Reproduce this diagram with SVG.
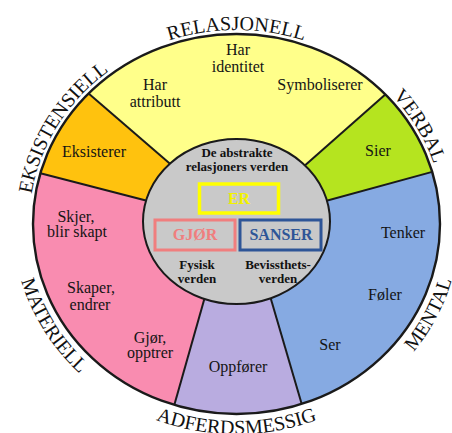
<svg xmlns="http://www.w3.org/2000/svg" width="452" height="433" viewBox="0 0 452 433">
  <style>
    .sector { stroke: none; }
    .divider { stroke: #1a1a1a; stroke-width: 2; fill: none; }
    .rim { fill: none; stroke: #1a1a1a; stroke-width: 2.4; }
    .label { font-family: "Liberation Serif", "Times New Roman", serif; font-size: 16px; fill: #141414; text-anchor: middle; }
    .ring { font-family: "Liberation Serif", "Times New Roman", serif; font-size: 20px; fill: #111; }
    .core { font-family: "Liberation Serif", "Times New Roman", serif; font-size: 13px; font-weight: bold; fill: #111; text-anchor: middle; }
    .verb { font-family: "Liberation Serif", "Times New Roman", serif; font-size: 16px; font-weight: bold; text-anchor: middle; }
  </style>
  <defs>
    <!-- baselines for the curved category names -->
    <path id="arcRel" d="M77.6,99.3 A207.5,194 0 0 1 395.4,99.3"/>
    <path id="arcEks" d="M32.2,257.7 A207.5,194 0 0 1 165.5,41.7"/>
    <path id="arcVer" d="M310.9,42.9 A207.5,194 0 0 1 440.2,261.0"/>
    <path id="arcMat" d="M16.4,187.5 A223.5,210 0 0 0 160.1,421.3"/>
    <path id="arcMen" d="M327.4,415.8 A223.5,210 0 0 0 453.4,173.2"/>
    <path id="arcAdf" d="M92.8,384.9 A223.5,210 0 0 0 380.2,384.9"/>
  </defs>

  <rect width="452" height="433" fill="#ffffff"/>

  <!-- outer ring sectors -->
  <g id="relasjonell">
    <path class="sector" fill="#FFFF8A" d="M190,181 L88.6,93.5 A203.5,190 0 0 1 385.3,94.4 L285,183 L236.5,222 Z"/>
    <text class="label" x="238" y="55">Har</text>
    <text class="label" x="238" y="72">identitet</text>
    <text class="label" x="155" y="90">Har</text>
    <text class="label" x="155" y="107">attributt</text>
    <text class="label" x="320" y="90">Symboliserer</text>
  </g>
  <g id="verbal">
    <path class="sector" fill="#B5E41F" d="M285,183 L385.3,94.4 A203.5,190 0 0 1 432.2,171.9 L300,208 L236.5,222 Z"/>
    <text class="label" x="378" y="156">Sier</text>
  </g>
  <g id="mental">
    <path class="sector" fill="#86AAE2" d="M300,208 L432.2,171.9 A203.5,190 0 0 1 301.7,404 L263,272 L236.5,222 Z"/>
    <text class="label" x="403" y="238">Tenker</text>
    <text class="label" x="385" y="300">Føler</text>
    <text class="label" x="330" y="350">Ser</text>
  </g>
  <g id="adferdsmessig">
    <path class="sector" fill="#B9ACE0" d="M263,272 L301.7,404 A203.5,190 0 0 1 174.3,404.9 L212,272 L236.5,222 Z"/>
    <text class="label" x="238" y="372">Oppfører</text>
  </g>
  <g id="materiell">
    <path class="sector" fill="#F98CB0" d="M212,272 L174.3,404.9 A203.5,190 0 0 1 40.4,173.2 L175,208 L236.5,222 Z"/>
    <text class="label" x="76" y="222">Skjer,</text>
    <text class="label" x="77" y="237">blir skapt</text>
    <text class="label" x="91" y="293">Skaper,</text>
    <text class="label" x="90" y="310">endrer</text>
    <text class="label" x="150" y="343">Gjør,</text>
    <text class="label" x="150" y="358">opptrer</text>
  </g>
  <g id="eksistensiell">
    <path class="sector" fill="#FFC20E" d="M175,208 L40.4,173.2 A203.5,190 0 0 1 88.6,93.5 L190,181 L236.5,222 Z"/>
    <text class="label" x="94" y="157">Eksisterer</text>
  </g>

  <!-- connectors: sector dividers and rim -->
  <g id="connectors">
    <ellipse class="rim" cx="236.5" cy="224" rx="203.5" ry="190"/>
    <line class="divider" x1="88.6" y1="93.5" x2="190" y2="181"/>
    <line class="divider" x1="385.3" y1="94.4" x2="285" y2="183"/>
    <line class="divider" x1="432.2" y1="171.9" x2="300" y2="208"/>
    <line class="divider" x1="301.7" y1="404" x2="263" y2="272"/>
    <line class="divider" x1="174.3" y1="404.9" x2="212" y2="272"/>
    <line class="divider" x1="40.4" y1="173.2" x2="175" y2="208"/>
  </g>

  <!-- central disc -->
  <g id="center">
    <ellipse cx="236.5" cy="221.5" rx="93.5" ry="82.5" fill="#C9C9C9" stroke="#1a1a1a" stroke-width="2"/>
    <text class="core" x="237" y="157">De abstrakte</text>
    <text class="core" x="237" y="171">relasjoners verden</text>
    <text class="core" x="197" y="269">Fysisk</text>
    <text class="core" x="197" y="283">verden</text>
    <text class="core" x="278" y="269">Bevissthets-</text>
    <text class="core" x="278" y="283">verden</text>
  </g>
  <g id="er">
    <rect x="199.5" y="184" width="79" height="29" fill="none" stroke="#FFFF00" stroke-width="3.5"/>
    <text class="verb" x="239" y="204" fill="#F2F200">ER</text>
  </g>
  <g id="gjor">
    <rect x="155" y="220" width="80" height="30" fill="none" stroke="#F07E7E" stroke-width="3"/>
    <text class="verb" x="195" y="240" fill="#F07E7E">GJØR</text>
  </g>
  <g id="sanser">
    <rect x="240" y="220" width="81" height="30" fill="none" stroke="#2E5597" stroke-width="3"/>
    <text class="verb" x="281" y="240" fill="#2E5597">SANSER</text>
  </g>

  <!-- curved category names -->
  <g id="ring-labels">
    <text class="ring"><textPath href="#arcRel" startOffset="50%" text-anchor="middle">RELASJONELL</textPath></text>
    <text class="ring"><textPath href="#arcEks" startOffset="50%" text-anchor="middle">EKSISTENSIELL</textPath></text>
    <text class="ring"><textPath href="#arcVer" startOffset="50%" text-anchor="middle">VERBAL</textPath></text>
    <text class="ring"><textPath href="#arcMat" startOffset="50%" text-anchor="middle">MATERIELL</textPath></text>
    <text class="ring"><textPath href="#arcMen" startOffset="50%" text-anchor="middle">MENTAL</textPath></text>
    <text class="ring"><textPath href="#arcAdf" startOffset="50%" text-anchor="middle">ADFERDSMESSIG</textPath></text>
  </g>
</svg>
